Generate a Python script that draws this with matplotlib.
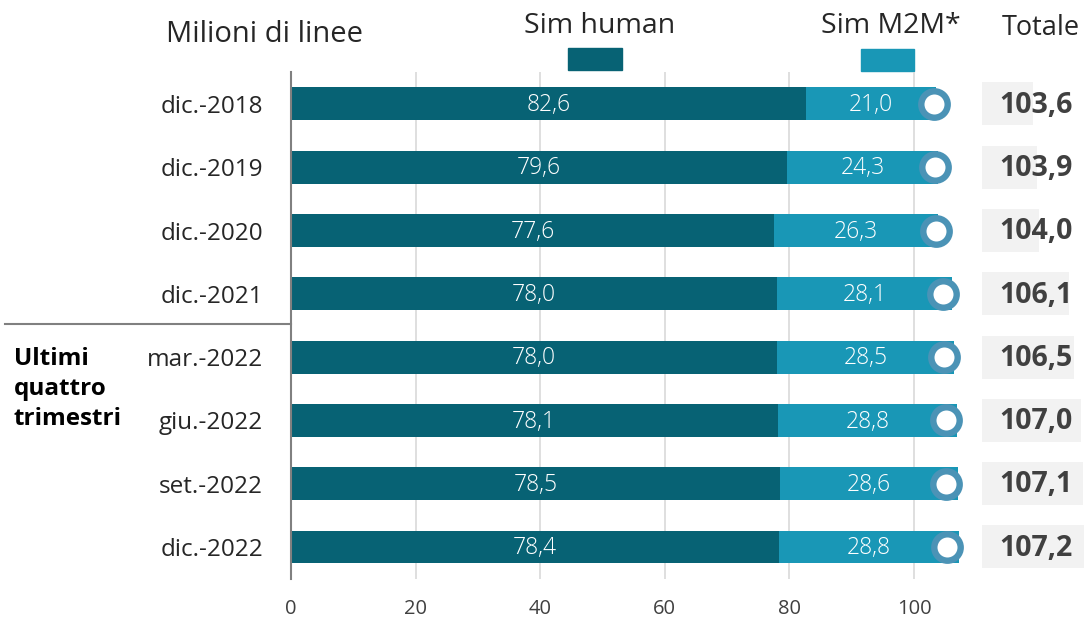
import matplotlib
matplotlib.use("Agg")
import matplotlib.pyplot as plt
from matplotlib.transforms import blended_transform_factory
from matplotlib.lines import Line2D
from matplotlib.patches import Rectangle

plt.rcParams['font.family'] = ['Open Sans', 'DejaVu Sans']

categories = ["dic.-2018", "dic.-2019", "dic.-2020", "dic.-2021",
              "mar.-2022", "giu.-2022", "set.-2022", "dic.-2022"]
sim_human = [82.6, 79.6, 77.6, 78.0, 78.0, 78.1, 78.5, 78.4]
sim_m2m = [21.0, 24.3, 26.3, 28.1, 28.5, 28.8, 28.6, 28.8]
totals = [103.6, 103.9, 104.0, 106.1, 106.5, 107.0, 107.1, 107.2]
xticks = [0, 20, 40, 60, 80, 100]

C_DARK = "#076274"
C_LIGHT = "#1997b6"
C_RING = "#4b93b6"
C_BOX = "#f2f2f2"
C_TXT = "#404040"

W, H = 1086, 618
fig = plt.figure(figsize=(W / 100, H / 100), dpi=100)

def fx(px):
    return px / W

def fy(py):
    return 1 - py / H

px_per_unit = 6.23
x0 = 291
top, bot = 72.3, 578.6
xmax = 112
axw = xmax * px_per_unit
n = len(categories)
ys = list(range(n))

# totals boxes axis (drawn below)
bx0, bx1 = 982, 1086
ax2 = fig.add_axes([fx(bx0), fy(bot), fx(bx1 - bx0), (bot - top) / H])
ax2.set_xlim(100, 100 + (bx1 - bx0) / 14.2)
ax2.set_ylim(n - 0.5, -0.5)
ax2.barh(ys, [t - 100 for t in totals], left=100, height=0.68, color=C_BOX)
ax2.axis('off')
ax2.set_zorder(0)

ax = fig.add_axes([fx(x0), fy(bot), fx(axw), (bot - top) / H])
ax.set_zorder(1)
ax.patch.set_alpha(0)
ax.set_xlim(0, xmax)
ax.set_ylim(n - 0.5, -0.5)

bh = 0.52
ax.barh(ys, sim_human, height=bh, color=C_DARK, zorder=2)
ax.barh(ys, sim_m2m, left=sim_human, height=bh, color=C_LIGHT, zorder=2)

for i in range(n):
    ax.text(sim_human[i] / 2, i + 0.02, f"{sim_human[i]:.1f}".replace('.', ','),
            ha='center', va='center', color='white', fontsize=16.5,
            fontweight='light', zorder=4)
    ax.text(sim_human[i] + sim_m2m[i] / 2, i + 0.02, f"{sim_m2m[i]:.1f}".replace('.', ','),
            ha='center', va='center', color='white', fontsize=16.5,
            fontweight='light', zorder=4)

# ring markers (own scale, as in the reference)
ax3 = fig.add_axes([fx(x0), fy(bot), fx(axw), (bot - top) / H])
ax3.set_zorder(2)
ax3.patch.set_alpha(0)
ax3.set_xlim(-81.8, 119.3)
ax3.set_ylim(n - 0.5, -0.5)
ax3.axis('off')
ax3.plot(totals, ys, linestyle='none', marker='o', markersize=19.0,
         markerfacecolor='white', markeredgecolor=C_RING, markeredgewidth=4.6,
         clip_on=False)

# grid
for xv in xticks[1:]:
    ax.axvline(xv, color="#d9d9d9", linewidth=1.2, zorder=1)

for s in ['top', 'right', 'bottom']:
    ax.spines[s].set_visible(False)
ax.spines['left'].set_color("#808080")
ax.spines['left'].set_linewidth(1.5)
ax.spines['left'].set_zorder(3)

ax.set_xticks(xticks)
ax.set_xticklabels([str(v) for v in xticks], fontsize=14.5, color=C_TXT)
ax.tick_params(axis='x', length=0, pad=15)
ax.set_yticks(ys)
ax.set_yticklabels(categories, fontsize=17.5, color="#262626")
ax.tick_params(axis='y', length=0, pad=20)

tr = blended_transform_factory(fig.transFigure, ax2.transData)
for i in range(n):
    ax2.text(fx(1073), i + 0.02, f"{totals[i]:.1f}".replace('.', ','), transform=tr,
             ha='right', va='center', fontsize=20.5, fontweight='bold',
             color=C_TXT, zorder=6, clip_on=False)

# separator line
fig.add_artist(Line2D([fx(5), fx(x0)], [fy(324), fy(324)], color="#808080",
                      linewidth=1.5))

fig.text(fx(14), fy(389), "Ultimi\nquattro\ntrimestri", ha='left', va='center',
         fontsize=17.5, fontweight='bold', color='black', linespacing=1.35)

# header / legend
fig.text(fx(265), fy(35), "Milioni di linee", ha='center', va='center',
         fontsize=21, color="#262626")
fig.text(fx(600), fy(26), "Sim human", ha='center', va='center',
         fontsize=20.5, color="#262626")
fig.text(fx(891), fy(26), "Sim M2M*", ha='center', va='center',
         fontsize=20.5, color="#262626")
fig.text(fx(1041), fy(28), "Totale", ha='center', va='center',
         fontsize=19.5, color="#262626")
fig.add_artist(Rectangle((fx(568), fy(70)), fx(54), 22 / H,
                         color=C_DARK, transform=fig.transFigure))
fig.add_artist(Rectangle((fx(861), fy(71)), fx(53), 22 / H,
                         color=C_LIGHT, transform=fig.transFigure))

fig.savefig("out.png", dpi=100)
